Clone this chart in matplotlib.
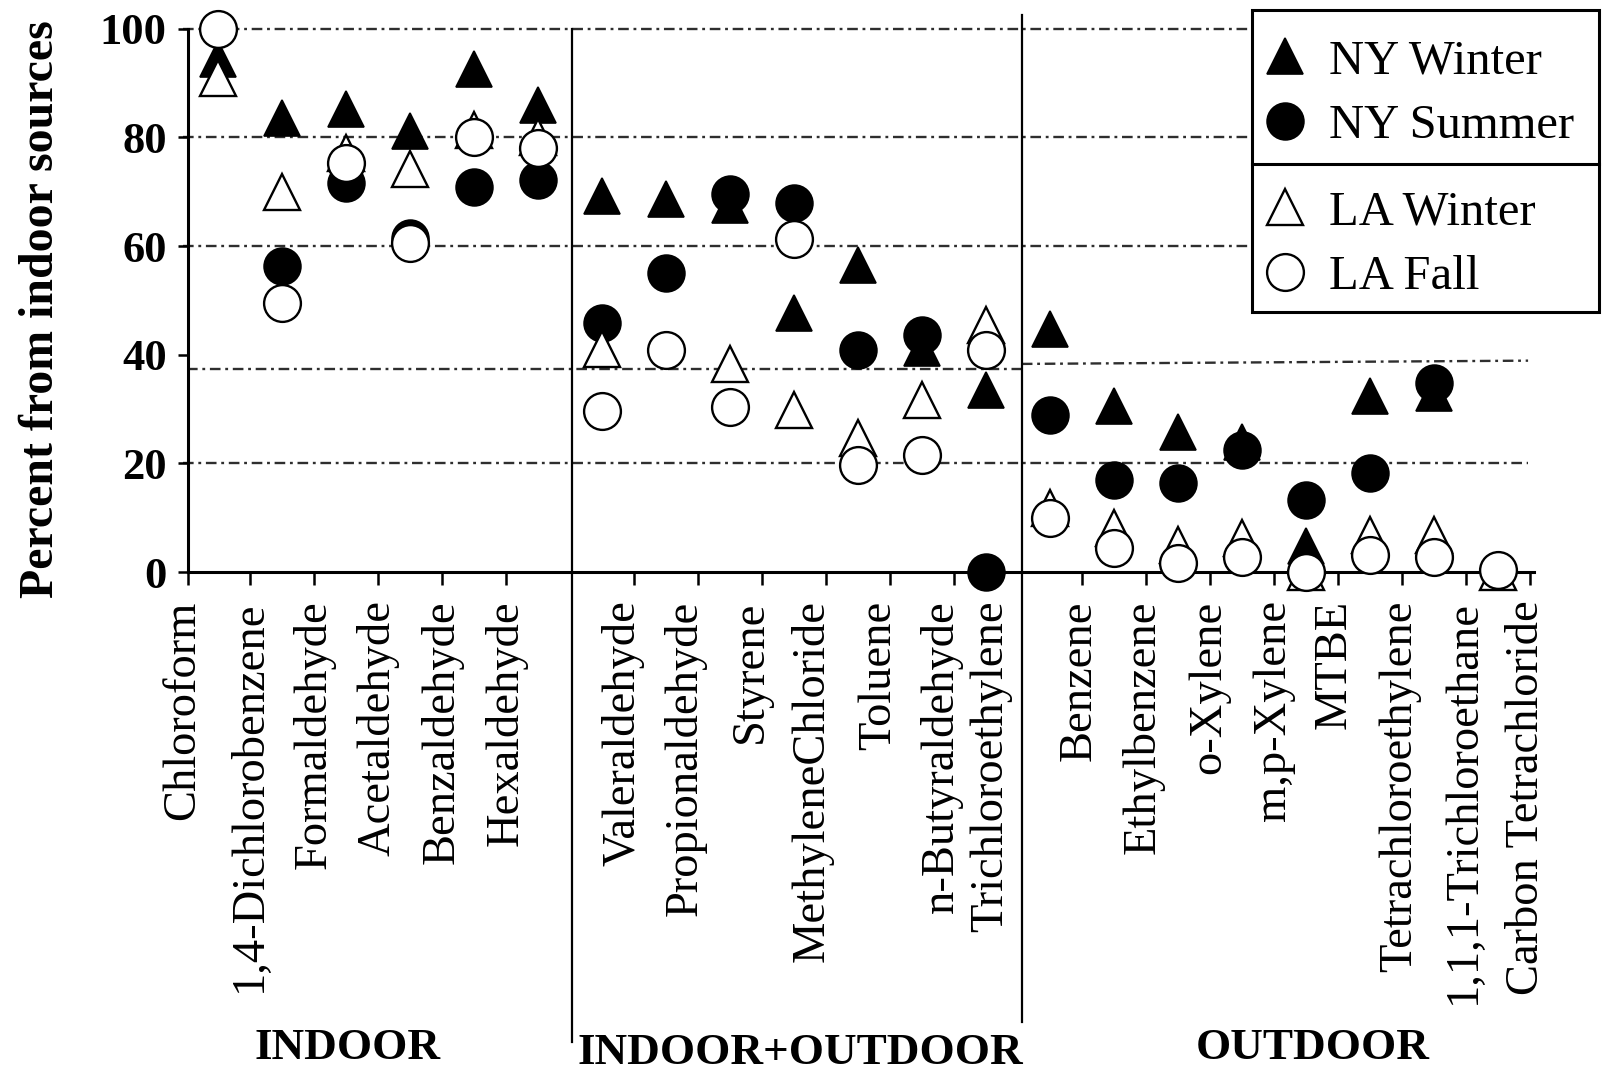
import numpy as np
import matplotlib
matplotlib.use("Agg")
import matplotlib.pyplot as plt
import matplotlib.transforms as mtransforms
from matplotlib.lines import Line2D
from matplotlib.patches import Rectangle

nan = np.nan

# ---------------- data ----------------
compounds = ["Chloroform", "1,4-Dichlorobenzene", "Formaldehyde", "Acetaldehyde",
             "Benzaldehyde", "Hexaldehyde",
             "Valeraldehyde", "Propionaldehyde", "Styrene", "MethyleneChloride",
             "Toluene", "n-Butyraldehyde", "Trichloroethylene",
             "Benzene", "Ethylbenzene", "o-Xylene", "m,p-Xylene", "MTBE",
             "Tetrachloroethylene", "1,1,1-Trichloroethane", "Carbon Tetrachloride"]

ny_winter = [94.5, 83.5, 85.2, 81.2, 92.6, 85.9,
             69.2, 68.7, 67.5, 47.7, 56.5, 41.2, 33.5,
             44.7, 30.6, 25.8, 24.0, 4.7, 32.4, 32.9, nan]
ny_summer = [nan, 56.3, 71.6, 61.5, 70.9, 72.1,
             45.8, 55.0, 69.5, 68.0, 40.8, 43.7, 0.0,
             28.9, 16.9, 16.4, 22.4, 13.2, 18.2, 34.8, nan]
la_winter = [91.0, 69.9, 77.1, 74.2, 81.4, 80.0,
             41.0, nan, 38.2, 29.9, 24.6, 31.7, 45.4,
             11.8, 8.1, 5.0, 6.2, 0.0, 6.8, 6.8, 0.0]
la_fall = [100.0, 49.6, 75.3, 60.5, 80.1, 78.0,
           29.6, 40.8, 30.3, 61.3, 19.7, 21.5, 40.8,
           9.9, 4.4, 1.6, 2.8, 0.0, 3.1, 2.8, 0.4]

series_names = ["NY Winter", "NY Summer", "LA Winter", "LA Fall"]
group_names = ["INDOOR", "INDOOR+OUTDOOR", "OUTDOOR"]
y_ticks = [0, 20, 40, 60, 80, 100]

# ---------------- layout ----------------
FONT = "Liberation Serif"
W, H = 1602, 1074
fig = plt.figure(figsize=(W / 100, H / 100), dpi=100)
ax = fig.add_axes([187.5 / W, 1 - 572 / H, (1534 - 187.5) / W, (572 - 28.7) / H])

x = np.arange(len(compounds))
ax.set_xlim(-0.4766, 20.5625)
ax.set_ylim(0, 100)

# label offsets (layout only)
label_off = [-0.55, -0.5, -0.5, -0.5, -0.5, -0.5,
             0.33, 0.3, 0.32, 0.29, 0.33, 0.3, 0.08,
             0.46, 0.45, 0.48, 0.49, 0.45, 0.47, 0.47, 0.45]
tick_pos = [-0.47] + [i + 0.5 for i in range(0, 5)] + [i + 0.5 for i in range(6, 12)] + \
           [i + 0.5 for i in range(13, 21)]

# grid lines (dash-dot)
gls = (0, (4.5, 2.0, 1.2, 2.0))
gcol = "#2e2e2e"
glw = 1.7
for yv in [100, 80, 60, 20]:
    ax.plot([-0.55, 20.47], [yv, yv], ls=gls, color=gcol, lw=glw, zorder=1, clip_on=False)
ax.plot([-0.48, 12.56], [37.3, 37.3], ls=gls, color=gcol, lw=glw, zorder=1, clip_on=False)
ax.plot([12.56, 20.47], [38.3, 38.9], ls=gls, color=gcol, lw=glw, zorder=1, clip_on=False)

# section dividers
ax.plot([5.53, 5.53], [100, -86.5], color="black", lw=1.6, clip_on=False, zorder=2)
ax.plot([12.56, 12.56], [102.6, -82.8], color="black", lw=1.6, clip_on=False, zorder=2)

# data
ms = 26.5
h1, = ax.plot(x, ny_winter, ls="none", marker="^", ms=ms, mfc="black", mec="black",
              mew=1.2, clip_on=False, zorder=3, label=series_names[0])
h2, = ax.plot(x, ny_summer, ls="none", marker="o", ms=ms, mfc="black", mec="black",
              mew=1.2, clip_on=False, zorder=4, label=series_names[1])
h3, = ax.plot(x, la_winter, ls="none", marker="^", ms=ms, mfc="white", mec="black",
              mew=1.7, clip_on=False, zorder=5, label=series_names[2])
h4, = ax.plot(x, la_fall, ls="none", marker="o", ms=ms, mfc="white", mec="black",
              mew=1.7, clip_on=False, zorder=6, label=series_names[3])

# axes styling
for s in ["top", "right"]:
    ax.spines[s].set_visible(False)
for s in ["left", "bottom"]:
    ax.spines[s].set_linewidth(2.2)
    ax.spines[s].set_zorder(2.5)

ax.set_yticks(y_ticks)
ax.set_yticklabels([str(v) for v in y_ticks], fontfamily=FONT, fontweight="bold", fontsize=32)
ax.tick_params(axis="y", direction="out", length=7, width=1.8, pad=8)
ax.set_xticks(tick_pos)
ax.set_xticklabels([])
ax.tick_params(axis="x", direction="out", length=9, width=1.8)

trans = mtransforms.blended_transform_factory(ax.transData, ax.transAxes)
for i, name in enumerate(compounds):
    ax.text(x[i] + label_off[i], -0.052, name, transform=trans, rotation=90,
            ha="center", va="top", fontfamily=FONT, fontsize=33.5, clip_on=False)

# group labels
fig.text(348 / W, 1 - 1048 / H, group_names[0], ha="center", va="center",
         fontfamily=FONT, fontweight="bold", fontsize=32.5)
fig.text(800 / W, 1 - 1053 / H, group_names[1], ha="center", va="center",
         fontfamily=FONT, fontweight="bold", fontsize=32.5)
fig.text(1313 / W, 1 - 1048 / H, group_names[2], ha="center", va="center",
         fontfamily=FONT, fontweight="bold", fontsize=32.5)

# y label
fig.text(41 / W, 1 - 309 / H, "Percent from indoor sources", rotation=90,
         ha="center", va="center", fontfamily=FONT, fontweight="bold", fontsize=34.5)

# legend box
bx0, bx1, by0, by1 = 1251.5, 1599, 10, 312
fig.add_artist(Rectangle((bx0 / W, 1 - by1 / H), (bx1 - bx0) / W, (by1 - by0) / H,
                         transform=fig.transFigure, fc="white", ec="black", lw=2.2, zorder=4))
fig.add_artist(Line2D([bx0 / W, bx1 / W], [1 - 163.5 / H, 1 - 163.5 / H],
                      transform=fig.transFigure, color="black", lw=2.2, zorder=4.5))
prop = {"family": FONT, "size": 35}
leg1 = fig.legend([h1, h2], series_names[:2], loc="center left",
                  bbox_to_anchor=(1265.5 / W, 1 - 93.5 / H), frameon=False, prop=prop,
                  handlelength=0.8, handletextpad=0.5, borderpad=0, borderaxespad=0,
                  labelspacing=0.42)
leg2 = fig.legend([h3, h4], series_names[2:], loc="center left",
                  bbox_to_anchor=(1265.5 / W, 1 - 244.5 / H), frameon=False, prop=prop,
                  handlelength=0.8, handletextpad=0.5, borderpad=0, borderaxespad=0,
                  labelspacing=0.42)
leg1.set_zorder(6)
leg2.set_zorder(6)

fig.savefig("out.png", dpi=100, facecolor="white")
